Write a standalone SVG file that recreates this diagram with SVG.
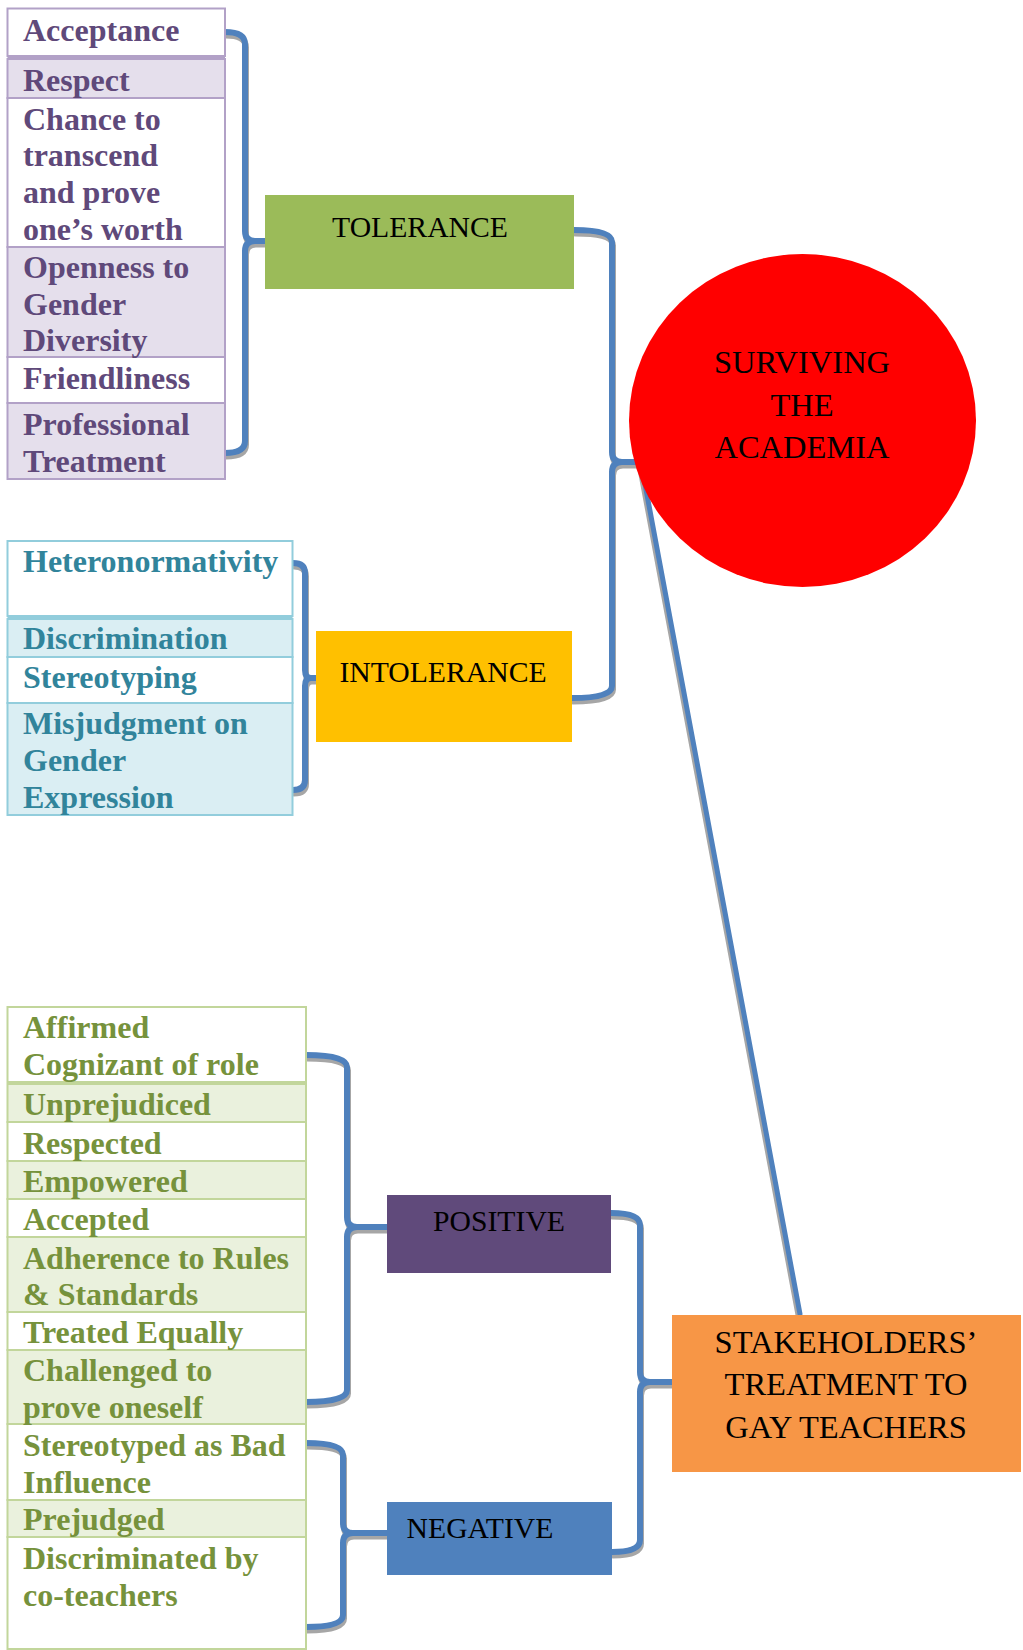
<svg xmlns="http://www.w3.org/2000/svg" xmlns:xlink="http://www.w3.org/1999/xlink" width="1023" height="1650" viewBox="0 0 1023 1650">
  <style>
    .cell { stroke-width: 2; }
    .pu { stroke: #b2a1c7; }
    .pu.sh { fill: #e5dfec; }
    .te { stroke: #92cddc; }
    .te.sh { fill: #daeef3; }
    .gr { stroke: #c2d69b; }
    .gr.sh { fill: #eaf1dd; }
    .wh { fill: #ffffff; }
    .item { font-family: "Liberation Serif", "Times New Roman", serif; font-weight: bold; font-size: 32px; }
    .tpu { fill: #5f497a; }
    .tte { fill: #31849b; }
    .tgr { fill: #76923c; }
    .lbl { font-family: "Liberation Serif", "Times New Roman", serif; font-size: 29.7px; fill: #000000; text-anchor: middle; }
    .big { font-size: 32.5px; }
    .wire { fill: none; stroke: #4f81bd; stroke-width: 6; stroke-linecap: round; stroke-linejoin: round; }
    .shadow { fill: none; stroke: #a6a6a6; stroke-width: 6; stroke-linecap: round; stroke-linejoin: round; }
  </style>
  <defs>
    <!-- brace connectors: ends on the left, tip on the right -->
    <path id="b1" d="M225 32 Q245 32 245 44 L245 231 Q245 241 255 241 L265 241 L255 241 Q245 241 245 251 L245 441 Q245 453 225 453"/>
    <path id="b2" d="M574 230 Q612 230 612 242 L612 452 Q612 462 622 462 L640 462 L622 462 Q612 462 612 472 L612 686 Q612 698 572 698"/>
    <path id="b3" d="M293 563 Q305 563 305 573 L305 670 Q305 678 311 678 L316 678 L311 678 Q305 678 305 686 L305 780 Q305 790 293 790"/>
    <path id="b4" d="M306 1055 Q347 1055 347 1067 L347 1217 Q347 1227 357 1227 L387 1227 L357 1227 Q347 1227 347 1237 L347 1390 Q347 1402 306 1402"/>
    <path id="b5" d="M306 1443 Q343 1443 343 1455 L343 1523 Q343 1533 353 1533 L387 1533 L353 1533 Q343 1533 343 1543 L343 1615 Q343 1627 306 1627"/>
    <path id="b6" d="M611 1213 Q640 1213 640 1225 L640 1372 Q640 1382 650 1382 L672 1382 L650 1382 Q640 1382 640 1392 L640 1540 Q640 1552 612 1552"/>
    <path id="link" d="M642 468 L800 1314"/>
  </defs>

  <g id="connectors">
    <g transform="translate(1 3.5)">
      <use xlink:href="#b1" class="shadow"/>
      <use xlink:href="#b2" class="shadow"/>
      <use xlink:href="#b3" class="shadow"/>
      <use xlink:href="#b4" class="shadow"/>
      <use xlink:href="#b5" class="shadow"/>
      <use xlink:href="#b6" class="shadow"/>
    </g>
    <use xlink:href="#link" class="shadow" style="stroke-width:5" transform="translate(-2 1)"/>
    <use xlink:href="#b1" class="wire"/>
    <use xlink:href="#b2" class="wire"/>
    <use xlink:href="#b3" class="wire"/>
    <use xlink:href="#b4" class="wire"/>
    <use xlink:href="#b5" class="wire"/>
    <use xlink:href="#b6" class="wire"/>
    <use xlink:href="#link" class="wire" style="stroke-width:5"/>
  </g>

  <!-- tolerance attributes -->
  <g id="tolerance-list">
    <rect x="7.5" y="8.5" width="217.5" height="470.5" fill="#b2a1c7"/>
    <rect class="cell pu wh" x="7.5" y="8.5" width="217.5" height="47.5"/>
    <rect class="cell pu sh" x="7.5" y="59" width="217.5" height="39"/>
    <rect class="cell pu wh" x="7.5" y="98" width="217.5" height="149"/>
    <rect class="cell pu sh" x="7.5" y="247" width="217.5" height="110"/>
    <rect class="cell pu wh" x="7.5" y="357" width="217.5" height="46"/>
    <rect class="cell pu sh" x="7.5" y="403" width="217.5" height="76"/>
    <g class="item tpu" transform="translate(0 1.5)">
      <text x="23" y="39">Acceptance</text>
      <text x="23" y="89">Respect</text>
      <text x="23" y="128">Chance to</text>
      <text x="23" y="164.5">transcend</text>
      <text x="23" y="201">and prove</text>
      <text x="23" y="238">one’s worth</text>
      <text x="23" y="276">Openness to</text>
      <text x="23" y="313">Gender</text>
      <text x="23" y="349">Diversity</text>
      <text x="23" y="387">Friendliness</text>
      <text x="23" y="433">Professional</text>
      <text x="23" y="470">Treatment</text>
    </g>
  </g>

  <!-- intolerance attributes -->
  <g id="intolerance-list">
    <rect x="7.5" y="541" width="285" height="274" fill="#92cddc"/>
    <rect class="cell te wh" x="7.5" y="541" width="285" height="75"/>
    <rect class="cell te sh" x="7.5" y="619" width="285" height="38"/>
    <rect class="cell te wh" x="7.5" y="657" width="285" height="46"/>
    <rect class="cell te sh" x="7.5" y="703" width="285" height="112"/>
    <g class="item tte" transform="translate(0 1)">
      <text x="23" y="571">Heteronormativity</text>
      <text x="23" y="648">Discrimination</text>
      <text x="23" y="687">Stereotyping</text>
      <text x="23" y="733">Misjudgment on</text>
      <text x="23" y="770">Gender</text>
      <text x="23" y="807">Expression</text>
    </g>
  </g>

  <!-- stakeholder treatment attributes -->
  <g id="treatment-list">
    <rect x="7.5" y="1007" width="298.5" height="642" fill="#c2d69b"/>
    <rect class="cell gr wh" x="7.5" y="1007" width="298.5" height="75"/>
    <rect class="cell gr sh" x="7.5" y="1084" width="298.5" height="38"/>
    <rect class="cell gr wh" x="7.5" y="1122" width="298.5" height="39"/>
    <rect class="cell gr sh" x="7.5" y="1161" width="298.5" height="38"/>
    <rect class="cell gr wh" x="7.5" y="1199" width="298.5" height="38"/>
    <rect class="cell gr sh" x="7.5" y="1237" width="298.5" height="75"/>
    <rect class="cell gr wh" x="7.5" y="1312" width="298.5" height="38"/>
    <rect class="cell gr sh" x="7.5" y="1350" width="298.5" height="74"/>
    <rect class="cell gr wh" x="7.5" y="1424" width="298.5" height="76"/>
    <rect class="cell gr sh" x="7.5" y="1500" width="298.5" height="37"/>
    <rect class="cell gr wh" x="7.5" y="1537" width="298.5" height="112"/>
    <g class="item tgr" transform="translate(0 1.5)">
      <text x="23" y="1036">Affirmed</text>
      <text x="23" y="1073">Cognizant of role</text>
      <text x="23" y="1113">Unprejudiced</text>
      <text x="23" y="1152">Respected</text>
      <text x="23" y="1190">Empowered</text>
      <text x="23" y="1228">Accepted</text>
      <text x="23" y="1267">Adherence to Rules</text>
      <text x="23" y="1303">&amp; Standards</text>
      <text x="23" y="1341">Treated Equally</text>
      <text x="23" y="1379">Challenged to</text>
      <text x="23" y="1416">prove oneself</text>
      <text x="23" y="1454">Stereotyped as Bad</text>
      <text x="23" y="1491">Influence</text>
      <text x="23" y="1528">Prejudged</text>
      <text x="23" y="1567">Discriminated by</text>
      <text x="23" y="1604">co-teachers</text>
    </g>
  </g>

  <g id="tolerance">
    <rect x="265" y="195" width="309" height="94" fill="#9bbb59"/>
    <text class="lbl" x="420" y="237">TOLERANCE</text>
  </g>

  <g id="intolerance">
    <rect x="316" y="631" width="256" height="111" fill="#ffc000"/>
    <text class="lbl" x="443" y="682">INTOLERANCE</text>
  </g>

  <g id="surviving">
    <ellipse cx="802.5" cy="420.5" rx="173.5" ry="166.5" fill="#ff0000"/>
    <text class="lbl big" x="802" y="373">SURVIVING</text>
    <text class="lbl big" x="802" y="416">THE</text>
    <text class="lbl big" x="802" y="458">ACADEMIA</text>
  </g>

  <g id="positive">
    <rect x="387" y="1195" width="224" height="78" fill="#604a7b"/>
    <text class="lbl" x="499" y="1231">POSITIVE</text>
  </g>

  <g id="negative">
    <rect x="387" y="1502" width="225" height="73" fill="#4f81bd"/>
    <text class="lbl" x="480" y="1538">NEGATIVE</text>
  </g>

  <g id="stakeholders">
    <rect x="672" y="1315" width="349" height="157" fill="#f79646"/>
    <text class="lbl big" x="846" y="1353">STAKEHOLDERS’</text>
    <text class="lbl big" x="846" y="1395">TREATMENT TO</text>
    <text class="lbl big" x="846" y="1438">GAY TEACHERS</text>
  </g>
</svg>
